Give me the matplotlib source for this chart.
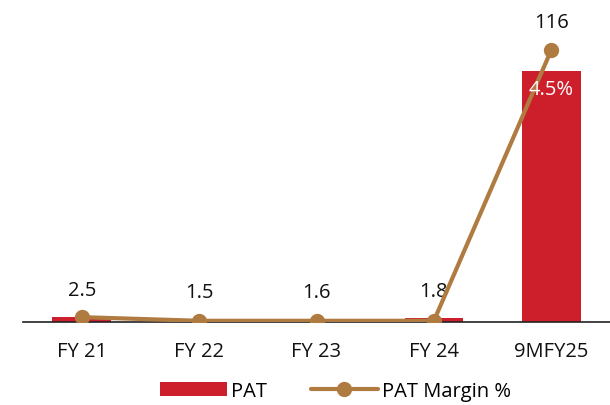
import matplotlib

matplotlib.use("Agg")
import matplotlib.pyplot as plt

plt.rcParams["font.family"] = ["Open Sans", "DejaVu Sans"]

years = ["FY 21", "FY 22", "FY 23", "FY 24", "9MFY25"]
pat = [2.5, 1.5, 1.6, 1.8, 116]
pat_margin = [0.08, 0.02, 0.02, 0.02, 4.5]

BAR_RED = "#CD1F2B"
LINE_BROWN = "#B07B40"
FS = 14.5

dpi = 100
fig = plt.figure(figsize=(6.10, 4.06), dpi=dpi)
ax = fig.add_axes([23 / 610, 1 - 323 / 406, 587 / 610, 313 / 406])
ax2 = ax.twinx()

x = list(range(len(years)))
bars = ax.bar(x, pat, width=0.5, color=BAR_RED, label="PAT", zorder=2)
line, = ax2.plot(x, pat_margin, color=LINE_BROWN, lw=3, marker="o", ms=10,
                 label="PAT Margin %", zorder=3, solid_capstyle="round")

ax.set_xlim(-0.5, 4.5)
ax.set_ylim(0, 116 * 313 / 251)
ax2.set_ylim(0, 4.5 * 313 / 272)

# PAT values: small ones sit above the bars, the last one above the line peak
for i, v in enumerate(pat[:4]):
    ax.annotate(f"{v:g}", (i, v), xytext=(0, 12),
                textcoords="offset points", ha="center", va="bottom",
                fontsize=FS, color="#111111")
ax2.annotate(f"{pat[4]:g}", (4, pat_margin[4]), xytext=(0, 20),
             textcoords="offset points", ha="center", va="center",
             fontsize=FS, color="#111111")
# margin label inside the tall bar
ax2.annotate(f"{pat_margin[4]:g}%", (4, pat_margin[4]), xytext=(0, -28),
             textcoords="offset points", ha="center", va="center",
             fontsize=FS, color="white", zorder=4)

for a in (ax, ax2):
    for s in ("top", "right", "left"):
        a.spines[s].set_visible(False)
    a.set_yticks([])
ax2.spines["bottom"].set_visible(False)
ax.spines["bottom"].set_color("#222222")
ax.spines["bottom"].set_linewidth(1.2)
ax.set_xticks(x)
ax.set_xticklabels(years, fontsize=FS, color="#111111")
ax.tick_params(axis="x", length=0, pad=14)

fig.legend([bars, line], ["PAT", "PAT Margin %"], loc="center",
           bbox_to_anchor=(0.55, 1 - 392 / 406), ncol=2, frameon=False,
           fontsize=FS, handlelength=3.3, handleheight=0.7,
           columnspacing=2.2, handletextpad=0.2)

fig.savefig("out.png", dpi=dpi)
plt.close(fig)
